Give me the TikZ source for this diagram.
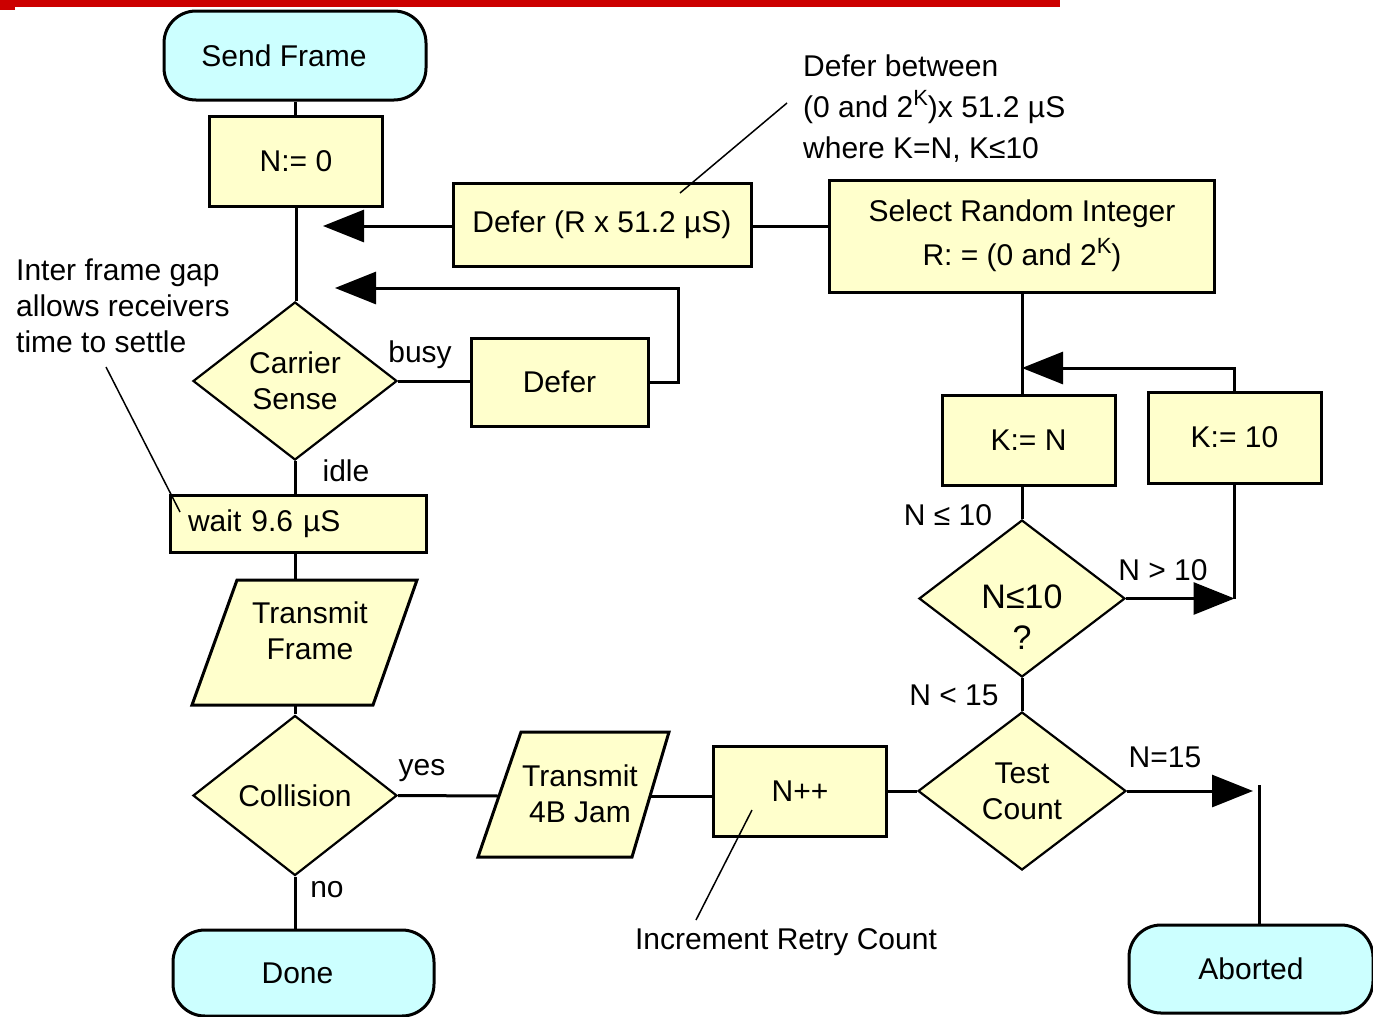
\documentclass[tikz,border=0pt]{standalone}
\usepackage{fontspec}
\setmainfont{Liberation Sans}
\usetikzlibrary{shapes.geometric,arrows.meta}
\definecolor{boxyellow}{HTML}{FFFFCC}
\definecolor{termcyan}{HTML}{CCFFFF}
\definecolor{barred}{HTML}{CC0000}
\newcommand{\supK}{\raisebox{0.42em}{\fontsize{22}{22}\selectfont K}}
\begin{document}
\begin{tikzpicture}[x=1pt,y=-1pt,
  every node/.style={font=\fontsize{30}{36}\selectfont, inner sep=0pt, align=center},
  procbox/.style={draw, line width=3pt, fill=boxyellow, rectangle},
  termbox/.style={draw, line width=3pt, fill=termcyan, rectangle, rounded corners=32pt},
  decbox/.style={draw, line width=2.2pt, fill=boxyellow, diamond, aspect=1.29},
  iopath/.style={draw, line width=3pt, fill=boxyellow},
  conn/.style={line width=3pt},
  arr/.style={line width=3pt, -{Triangle[length=41pt,width=32pt]}},
  lbl/.style={},
  note/.style={anchor=west, align=left},
  lead/.style={line width=1.5pt}
]
\useasboundingbox (0,0) rectangle (1373,1017);
% top red bar
\fill[barred] (0,0) rectangle (1060,7);
\fill[barred] (0,0) rectangle (15,10);

% left column
\node[termbox, minimum width=262pt, minimum height=89pt] (send) at (295,55.5) {Send Frame\hspace*{22pt}};
\node[procbox, minimum width=173pt, minimum height=90pt] (n0) at (296,161) {N:= 0};
\node[decbox, minimum width=204pt, minimum height=158pt] (carrier) at (295,381) {Carrier\\Sense};
\node[procbox, minimum width=177pt, minimum height=88pt] (defer) at (559.5,382) {Defer};
\node[procbox, minimum width=256pt, minimum height=57pt, text width=220pt, align=left] (wait) at (298,523.5) {wait 9.6 µS};

% Transmit Frame parallelogram
\path[iopath] (237,580) -- (417,580) -- (373,705) -- (192,705) -- cycle;
\coordinate (tfTop) at (295,580);
\coordinate (tfBot) at (295,705);
\node (tf) at (310,631) {Transmit\\Frame};

\node[decbox, minimum width=204pt, minimum height=160pt] (coll) at (295,795.5) {Collision};
\node[termbox, minimum width=261pt, minimum height=86pt] (done) at (303.5,973) {Done\hspace*{12pt}};

% Transmit 4B Jam parallelogram
\path[iopath] (521,732) -- (669,732) -- (632,857) -- (478,857) -- cycle;
\coordinate (jamL) at (499,796);
\coordinate (jamR) at (650,796);
\node (jam) at (580,794) {Transmit\\4B Jam};

\node[procbox, minimum width=173pt, minimum height=90pt] (npp) at (800,791) {N++};

% upper middle / right
\node[procbox, minimum width=298pt, minimum height=83pt] (deferR) at (602,224.5) {Defer (R x 51.2 µS)};
\node[procbox, minimum width=385pt, minimum height=112pt, font=\fontsize{30}{44}\selectfont] (select) at (1022,236) {Select Random Integer\\R: = (0 and 2\supK)};
\node[procbox, minimum width=173pt, minimum height=90pt] (kn) at (1028.5,440.5) {K:= N};
\node[procbox, minimum width=173pt, minimum height=91pt] (k10) at (1234.5,437.5) {K:= 10};
\node[decbox, minimum width=206pt, minimum height=157pt] (nle) at (1022,598.5) {};
\node[font=\fontsize{34}{41}\selectfont] (nleText) at (1022,617) {N≤10\\?};
\node[decbox, minimum width=208pt, minimum height=158pt] (test) at (1022,791) {Test\\Count};
\node[termbox, minimum width=244pt, minimum height=88pt] (aborted) at (1251,969) {Aborted};

% free-end coordinates
\coordinate (a1) at (323,226);
\coordinate (a2) at (335,288);
\coordinate (ktip) at (1022,368);
\coordinate (ntip) at (1234.5,598.5);
\coordinate (ftip) at (1253,791);
\coordinate (abTop) at (1259,785);

% connectors
\draw[conn] (send.south) -- (send.south |- n0.north);
\draw[conn] (n0.south) -- (n0.south |- carrier.north);
\draw[conn] (carrier.east) -- (carrier.east -| defer.west);
\draw[arr] (defer.east) -- ++(29,0) |- (a2);
\draw[conn] (carrier.south) -- (carrier.south |- wait.north);
\draw[conn] (wait.south -| tfTop) -- (tfTop);
\draw[conn] (tfBot) -- (coll.north);
\draw[conn] (coll.east) -- (jamL);
\draw[conn] (coll.south) -- (coll.south |- done.north);
\draw[conn] (jamR) -- (jamR -| npp.west);
\draw[conn] (npp.east) -- (test.west);
\draw[conn] (select.west |- 0,226) -- (deferR.east |- 0,226);
\draw[arr] (deferR.west |- a1) -- (a1);
\draw[conn] (select.south) -- (select.south |- kn.north);
\draw[conn] (nle.north |- kn.south) -- (nle.north);
\draw[arr] (k10.north) |- (ktip);
\draw[arr] (nle.east) -- (ntip);
\draw[conn] (k10.south) -- (ntip);
\draw[conn] (nle.south) -- (test.north);
\draw[arr] (test.east) -- (ftip);
\draw[conn] (abTop) -- (abTop |- aborted.north);

% connector labels
\node[lbl] (lbusy) at (420,355) {busy};
\node[lbl] (lidle) at (346,471) {idle};
\node[lbl] (lyes) at (422,771) {yes};
\node[lbl] (lno) at (327,890) {no};
\node[lbl] (lnle) at (948,515) {N ≤ 10};
\node[lbl] (lngt) at (1163,570) {N > 10};
\node[lbl] (lnlt) at (954,695) {N < 15};
\node[lbl] (lneq) at (1165,757) {N=15};

% annotations
\node[note, font=\fontsize{30}{41}\selectfont] (noteDefer) at (803,109) {Defer between\\(0 and 2\supK)x 51.2 µS\\where K=N, K≤10};
\coordinate (ld1) at (787,103);
\coordinate (ld2) at (680,193);
\draw[lead] (ld1) -- (ld2);

\node[note, font=\fontsize{30}{36}\selectfont] (noteGap) at (16,306) {Inter frame gap\\allows receivers\\time to settle};
\coordinate (lg1) at (106,367);
\coordinate (lg2) at (180,512);
\draw[lead] (lg1) -- (lg2);

\node (noteInc) at (786,942) {Increment Retry Count};
\coordinate (li1) at (752,810);
\coordinate (li2) at (696,920);
\draw[lead] (li1) -- (li2);
\end{tikzpicture}
\end{document}
